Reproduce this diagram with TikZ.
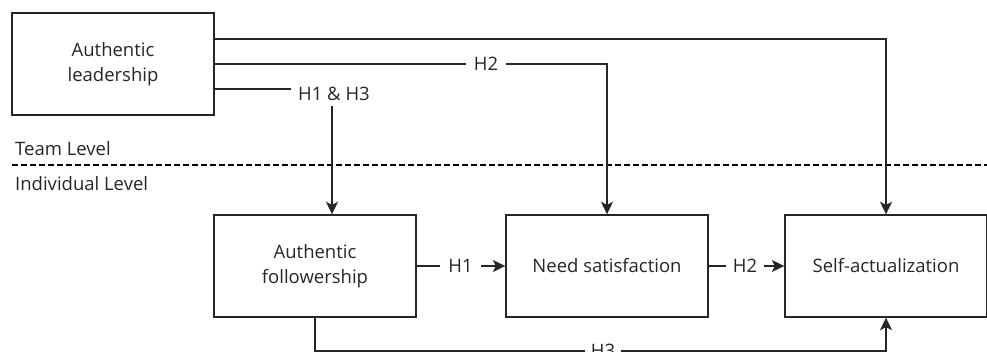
\documentclass[tikz,border=0pt]{standalone}
\usepackage{fontspec}
\setmainfont{Open Sans}
\usetikzlibrary{arrows.meta}
\begin{document}
\begin{tikzpicture}[x=1pt,y=-1pt,
  box/.style={draw=black!85, line width=1.4pt, minimum width=202pt, minimum height=102pt, inner sep=0pt, align=center, font=\fontsize{18.5}{25}\selectfont, text=black!85},
  lbl/.style={inner ysep=0pt, inner xsep=7pt, font=\fontsize{18.5}{22}\selectfont, text=black!85},
  conn/.style={draw=black!85, line width=1.4pt},
  arr/.style={conn, -{Stealth[length=12.5pt,width=12pt,inset=3pt]}},
  sep/.style={draw=black, line width=1.3pt, dash pattern=on 5.5pt off 3.5pt},
]
\useasboundingbox (0,0) rectangle (987,352);
% boxes
\node[box] (lead) at (113,64) {Authentic\\leadership};
\node[box] (foll) at (315,266) {Authentic\\followership};
\node[box] (need) at (607,266) {Need satisfaction};
\node[box] (self) at (886,266) {Self-actualization};
% labels
\node[lbl] (h13) at (334,94) {H1 \& H3};
\node[lbl, inner xsep=8pt] (h2t) at (486,64) {H2};
\node[lbl, inner xsep=8pt] (h1) at (460.5,266) {H1};
\node[lbl, inner xsep=6.5pt] (h2b) at (745,266) {H2};
\node[lbl, inner xsep=6pt] (h3) at (603,351) {H3};
% level text
\node[lbl, inner sep=0pt, anchor=base west] (team) at (15,156) {Team Level};
\node[lbl, inner sep=0pt, anchor=base west] (indiv) at (15,191) {Individual Level};
\draw[sep] (12,165) -- (987,165);
% connectors
\draw[arr] ([yshift=25pt]lead.east) -- ([yshift=25pt]lead.east -| self.north) -- (self.north);
\draw[conn] (lead.east) -- (h2t.west);
\draw[arr] (h2t.east) -- (h2t.east -| need.north) -- (need.north);
\draw[conn] ([yshift=-25pt]lead.east) -- ([yshift=-25pt]lead.east -| h13.west);
\draw[arr] ([xshift=-2pt,yshift=-5pt]h13.south) -- ([xshift=-2pt]h13.south |- foll.north);
\draw[conn] (foll.east) -- (h1.west);
\draw[arr] (h1.east) -- (need.west);
\draw[conn] (need.east) -- (h2b.west);
\draw[arr] (h2b.east) -- (self.west);
\draw[conn] (foll.south) -- (foll.south |- h3.center) -- (h3.west);
\draw[arr] (h3.east) -- (h3.east -| self.south) -- (self.south);
\end{tikzpicture}
\end{document}
